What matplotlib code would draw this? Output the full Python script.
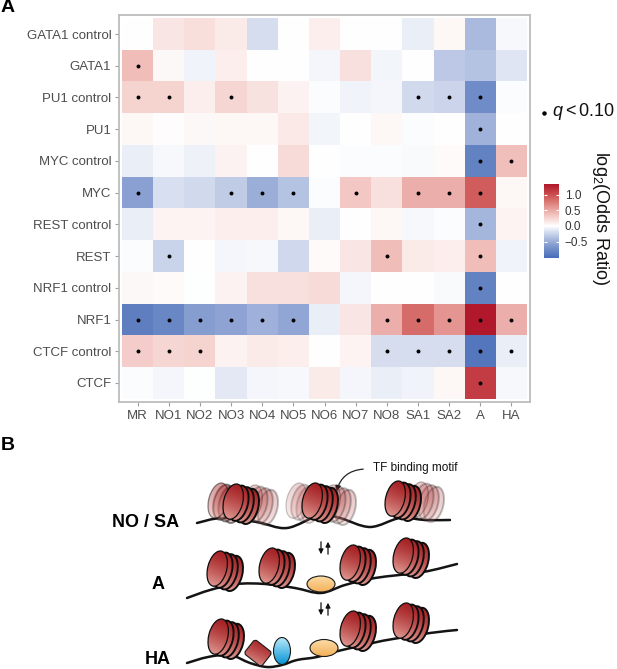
import numpy as np
import matplotlib
matplotlib.use('Agg')
import matplotlib.pyplot as plt
from matplotlib.colors import LinearSegmentedColormap, Normalize
from matplotlib.patches import Ellipse, FancyBboxPatch, PathPatch
from matplotlib.path import Path
from matplotlib.lines import Line2D
from matplotlib.transforms import Affine2D

plt.rcParams['font.family'] = ['Liberation Sans', 'DejaVu Sans']
plt.rcParams['mathtext.fontset'] = 'custom'
plt.rcParams['mathtext.rm'] = 'Liberation Sans'
plt.rcParams['mathtext.it'] = 'Liberation Sans:italic'

# ---- panel A data ----
tf_sets = ['GATA1 control', 'GATA1', 'PU1 control', 'PU1', 'MYC control', 'MYC',
           'REST control', 'REST', 'NRF1 control', 'NRF1', 'CTCF control', 'CTCF']
states = ['MR', 'NO1', 'NO2', 'NO3', 'NO4', 'NO5', 'NO6', 'NO7', 'NO8',
          'SA1', 'SA2', 'A', 'HA']

# log2(odds ratio), rows follow tf_sets, columns follow states
log2_or = [
    [0.00, 0.15, 0.20, 0.12, -0.20, 0.00, 0.10, 0.00, 0.01, -0.10, 0.05, -0.42, -0.04],
    [0.40, 0.04, -0.07, 0.10, 0.00, 0.00, -0.05, 0.18, -0.06, 0.00, -0.32, -0.35, -0.15],
    [0.27, 0.27, 0.10, 0.25, 0.17, 0.08, -0.02, -0.07, -0.05, -0.22, -0.25, -0.75, -0.02],
    [0.05, 0.02, 0.04, 0.05, 0.05, 0.13, -0.06, 0.00, 0.05, -0.02, 0.00, -0.47, 0.00],
    [-0.10, -0.04, -0.08, 0.08, 0.00, 0.22, 0.00, -0.02, -0.02, -0.03, 0.03, -0.85, 0.38],
    [-0.60, -0.18, -0.22, -0.30, -0.50, -0.35, -0.02, 0.33, 0.18, 0.48, 0.48, 0.93, 0.05],
    [-0.10, 0.07, 0.07, 0.10, 0.10, 0.05, -0.10, 0.00, 0.05, -0.04, -0.02, -0.45, 0.07],
    [-0.02, -0.26, 0.00, -0.05, -0.04, -0.23, 0.03, 0.15, 0.40, 0.12, 0.10, 0.40, -0.07],
    [0.04, 0.03, -0.01, 0.08, 0.18, 0.18, 0.22, -0.05, 0.00, 0.00, -0.03, -0.85, 0.00],
    [-0.88, -0.80, -0.62, -0.57, -0.48, -0.55, -0.10, 0.15, 0.48, 0.85, 0.62, 1.35, 0.48],
    [0.30, 0.25, 0.27, 0.08, 0.12, 0.10, 0.00, 0.07, -0.20, -0.20, -0.20, -0.95, -0.10],
    [-0.02, -0.05, -0.01, -0.13, -0.05, -0.04, 0.12, -0.05, -0.10, -0.07, 0.05, 1.12, -0.04],
]

# 1 where q < 0.10
q_sig = [
    [0, 0, 0, 0, 0, 0, 0, 0, 0, 0, 0, 0, 0],
    [1, 0, 0, 0, 0, 0, 0, 0, 0, 0, 0, 0, 0],
    [1, 1, 0, 1, 0, 0, 0, 0, 0, 1, 1, 1, 0],
    [0, 0, 0, 0, 0, 0, 0, 0, 0, 0, 0, 1, 0],
    [0, 0, 0, 0, 0, 0, 0, 0, 0, 0, 0, 1, 1],
    [1, 0, 0, 1, 1, 1, 0, 1, 0, 1, 1, 1, 0],
    [0, 0, 0, 0, 0, 0, 0, 0, 0, 0, 0, 1, 0],
    [0, 1, 0, 0, 0, 0, 0, 0, 1, 0, 0, 1, 0],
    [0, 0, 0, 0, 0, 0, 0, 0, 0, 0, 0, 1, 0],
    [1, 1, 1, 1, 1, 1, 0, 0, 1, 1, 1, 1, 1],
    [1, 1, 1, 0, 0, 0, 0, 0, 1, 1, 1, 1, 1],
    [0, 0, 0, 0, 0, 0, 0, 0, 0, 0, 0, 1, 0],
]

cbar_ticks = [-0.5, 0.0, 0.5, 1.0]
cbar_range = (-1.03, 1.35)

# ---- colours ----
cmap = LinearSegmentedColormap.from_list('or', [
    '#2d55a5', '#4b70b9', '#7d96cd', '#b9c6e4', '#ffffff',
    '#f3c8c4', '#e28c88', '#cc5050', '#b2182b'])
norm = Normalize(-1.35, 1.35)

W, H = 617, 669
fig = plt.figure(figsize=(W / 100, H / 100), dpi=100)

def px_axes(x0, y0, x1, y1):
    return fig.add_axes([x0 / W, 1 - y1 / H, (x1 - x0) / W, (y1 - y0) / H])

# ---- panel A heatmap ----
ax = px_axes(119, 15, 530, 402)
vals = np.array(log2_or)
ax.imshow(vals, cmap=cmap, norm=norm, aspect='auto', interpolation='nearest')
rr, cc = np.nonzero(np.array(q_sig))
ax.scatter(cc, rr, s=8, c='k', linewidths=0, zorder=3)
ax.set_xlim(-0.6, len(states) - 0.4)
ax.set_ylim(len(tf_sets) - 0.4, -0.6)
ax.set_xticks(range(len(states)))
ax.set_xticklabels(states)
ax.set_yticks(range(len(tf_sets)))
ax.set_yticklabels(tf_sets)
ax.tick_params(length=3, width=0.8, color='#9e9e9e', labelsize=9.5,
               labelcolor='#4d4d4d', pad=2.5)
for s in ax.spines.values():
    s.set_color('#bdbdbd')
    s.set_linewidth(1.3)

# colourbar
cax = px_axes(544, 184, 559, 258)
grad = np.linspace(cbar_range[1], cbar_range[0], 200)[:, None]
cax.imshow(grad, cmap=cmap, norm=norm, aspect='auto',
           extent=(0, 1, cbar_range[0], cbar_range[1]), origin='upper')
cax.set_xlim(0, 1)
cax.set_ylim(*cbar_range)
for v in cbar_ticks:
    cax.hlines(v, 0, 0.2, color='white', lw=0.8)
    cax.hlines(v, 0.8, 1, color='white', lw=0.8)
cax.set_xticks([])
cax.yaxis.tick_right()
cax.set_yticks(cbar_ticks)
cax.set_yticklabels([f'{v:.1f}'.replace('-', '\u2212') for v in cbar_ticks])
cax.tick_params(length=0, labelsize=8.5, labelcolor='#333333', pad=4)
for s in cax.spines.values():
    s.set_visible(False)

fig.text(601 / W, 1 - 218 / H, r'log$_{\mathregular{2}}$(Odds Ratio)', rotation=270,
         ha='center', va='center', fontsize=13, color='#111111')
fig.add_artist(Line2D([544 / W], [1 - 113 / H], marker='o', ms=2.2, color='k',
                      lw=0, transform=fig.transFigure))
fig.text(551.5 / W, 1 - 111 / H, r'$q < 0.10$', ha='left', va='center',
         fontsize=13, color='#111111')

fig.text(1 / W, 1 - 8 / H, 'A', ha='left', va='center', fontsize=14, weight='bold')
fig.text(1 / W, 1 - 446 / H, 'B', ha='left', va='center', fontsize=14, weight='bold')

# ---- panel B schematic (axes in pixel units) ----
bx = px_axes(0, 430, W, H)
bx.set_axis_off()

RED_D = np.array([160, 22, 26]) / 255
RED_L = np.array([242, 190, 180]) / 255
ORA_T = np.array([255, 236, 196]) / 255
ORA_B = np.array([240, 160, 60]) / 255
BLU_T = np.array([190, 236, 252]) / 255
BLU_B = np.array([0, 145, 212]) / 255

def gradient_image(c_a, c_b, diag, n=24):
    u = np.linspace(0, 1, n)
    xx, yy = np.meshgrid(u, u)
    t = (0.7 * yy + 0.3 * (1 - xx)) ** 1.5 if diag else yy
    t = np.clip(t, 0, 1)[..., None]
    return (1 - t) * c_a + t * c_b

def shaded(patch, cx, cy, r, c_a, c_b, alpha, z, diag=True):
    patch.set_zorder(z + 0.005)
    bx.add_patch(patch)
    im = bx.imshow(gradient_image(c_a, c_b, diag), extent=(cx - r, cx + r, cy + r, cy - r),
                   origin='upper', aspect='auto', interpolation='bilinear',
                   alpha=alpha, zorder=z)
    im.set_clip_path(patch)

zc = [3.0]

def nucleosome(cx, cy, alpha=1.0, n=4, w=19, h=36, dx=5.2, dy=1.6):
    for k in reversed(range(n)):
        ex = cx + (k - (n - 1) / 2) * dx
        ey = cy + (k - (n - 1) / 2) * dy
        e = Ellipse((ex, ey), w, h, angle=14, facecolor='none',
                    edgecolor=(0.05, 0.05, 0.05, min(1, alpha * 1.1)),
                    lw=1.4 if k else 0.9)
        shaded(e, ex, ey, h / 2 + 2, RED_D, RED_L, alpha, zc[0])
        zc[0] += 0.02

def smooth_path(pts):
    p = np.asarray(pts, float)
    ext = np.vstack([p[0], p, p[-1]])
    verts, codes = [p[0]], [Path.MOVETO]
    for i in range(1, len(ext) - 2):
        p0, p1, p2, p3 = ext[i - 1], ext[i], ext[i + 1], ext[i + 2]
        verts += [p1 + (p2 - p0) / 6, p2 - (p3 - p1) / 6, p2]
        codes += [Path.CURVE4] * 3
    return Path(verts, codes)

def dna(pts):
    bx.add_patch(PathPatch(smooth_path(pts), fill=False, lw=1.8, edgecolor='#141414',
                           capstyle='round', zorder=2))

# row NO / SA
dna([(197, 523), (222, 518), (257, 522), (287, 528), (320, 515), (340, 518),
     (370, 527), (400, 518), (425, 520), (450, 520)])
nucleosome(260, 505, alpha=0.25)
nucleosome(226, 503, alpha=0.45)
nucleosome(241, 504)
nucleosome(304, 503, alpha=0.2)
nucleosome(338, 505, alpha=0.25)
nucleosome(320, 503)
nucleosome(426, 502, alpha=0.25)
nucleosome(403, 501)

# row A
dna([(187, 598), (210, 590), (237, 584), (265, 584), (295, 588), (321, 593),
     (345, 585), (375, 578), (423, 572), (457, 564)])
nucleosome(225, 571)
nucleosome(277, 568)
nucleosome(358, 565)
nucleosome(411, 558)
shaded(Ellipse((321, 584), 28, 16, facecolor='none', edgecolor='#1a1a1a', lw=0.8),
       321, 584, 15, ORA_T, ORA_B, 1, 6, diag=False)

# row HA
dna([(187, 663), (208, 657), (230, 655), (250, 663), (267, 667), (282, 665),
     (297, 660), (317, 657), (338, 651), (360, 646), (377, 642), (393, 639),
     (430, 633), (457, 630)])
nucleosome(226, 639)
nucleosome(358, 631)
nucleosome(411, 623)
rect = FancyBboxPatch((258 - 11, 653 - 9), 22, 18, boxstyle='round,pad=0,rounding_size=3',
                      facecolor='none', edgecolor='#1a1a1a', lw=0.8,
                      transform=Affine2D().rotate_deg_around(258, 653, 38) + bx.transData)
shaded(rect, 258, 653, 16, RED_D, RED_L, 1, 6)
shaded(Ellipse((282, 651), 17, 27, facecolor='none', edgecolor='#1a1a1a', lw=0.8),
       282, 651, 15, BLU_T, BLU_B, 1, 6, diag=False)
shaded(Ellipse((324, 648), 28, 17, facecolor='none', edgecolor='#1a1a1a', lw=0.8),
       324, 648, 15, ORA_T, ORA_B, 1, 6, diag=False)

# transition arrows
arrow_kw = dict(arrowstyle='-|>', color='#111111', lw=0.9, mutation_scale=7)
for y0 in (539, 600):
    bx.annotate('', xy=(321, y0 + 18), xytext=(321, y0), arrowprops=arrow_kw)
    bx.annotate('', xy=(328, y0), xytext=(328, y0 + 18), arrowprops=arrow_kw)

# TF binding motif callout
bx.annotate('', xy=(336, 494), xytext=(366, 469),
            arrowprops=dict(arrowstyle='-|>', color='#222222', lw=0.9,
                            mutation_scale=8, connectionstyle='arc3,rad=0.4'))
bx.text(373, 468, 'TF binding motif', ha='left', va='center', fontsize=8.5, color='#111111')

# state labels
for label, x, y in [('NO / SA', 146, 523), ('A', 158, 585), ('HA', 158, 660)]:
    bx.text(x, y, label, ha='center', va='center', fontsize=13, weight='bold')

bx.set_xlim(0, W)
bx.set_ylim(H, 430)

fig.savefig('out.png', dpi=100)
